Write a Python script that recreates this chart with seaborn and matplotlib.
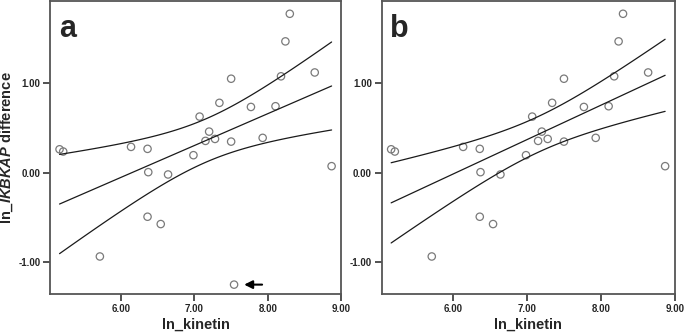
import numpy as np
import pandas as pd
import matplotlib
matplotlib.use("Agg")
import matplotlib.pyplot as plt
import seaborn as sns

# ln_kinetin and ln_IKBKAP difference
kinetin = [5.16, 5.21, 5.71, 6.135, 6.36, 6.37, 6.36, 6.54, 6.64, 6.986, 7.07, 7.15,
           7.20, 7.28, 7.34, 7.50, 7.50, 7.77, 7.93, 8.105, 8.18, 8.24, 8.30, 8.64, 8.87]
ikbkap = [0.26, 0.235, -0.94, 0.287, 0.265, 0.004, -0.495, -0.577, -0.022, 0.194, 0.626, 0.354,
          0.458, 0.376, 0.78, 1.05, 0.346, 0.734, 0.388, 0.742, 1.077, 1.468, 1.777, 1.12, 0.071]
# the outlier marked with an arrow in panel a
outlier_x = [7.54]
outlier_y = [-1.255]

xticks = [6, 7, 8, 9]
yticks = [-1, 0, 1]

sns.set_theme(style="white")
plt.rcParams["font.family"] = ["Liberation Sans", "DejaVu Sans"]
plt.rcParams["mathtext.fontset"] = "custom"
plt.rcParams["mathtext.bfit"] = "Liberation Sans:italic:bold"
plt.rcParams["mathtext.rm"] = "Liberation Sans:bold"


def ci_lines(x, y, grid, t=2.07):
    x = np.asarray(x)
    y = np.asarray(y)
    n = len(x)
    b1, b0 = np.polyfit(x, y, 1)
    resid = y - (b0 + b1 * x)
    s = np.sqrt(np.sum(resid ** 2) / (n - 2))
    sxx = np.sum((x - x.mean()) ** 2)
    fit = b0 + b1 * grid
    se = s * np.sqrt(1 / n + (grid - x.mean()) ** 2 / sxx)
    return fit, fit - t * se, fit + t * se


fig = plt.figure(figsize=(6.85, 3.36), dpi=100)
ax_a = fig.add_axes([0.073, 0.125, 0.425, 0.872])
ax_b = fig.add_axes([0.557, 0.125, 0.428, 0.872])

panels = [
    (ax_a, kinetin + outlier_x, ikbkap + outlier_y, "a"),
    (ax_b, kinetin, ikbkap, "b"),
]

for ax, xs, ys, letter in panels:
    df = pd.DataFrame({"x": xs, "y": ys})
    sns.scatterplot(data=df, x="x", y="y", ax=ax, marker="o", s=28,
                    facecolor="none", edgecolor="#7a7a7a", linewidth=0.9)
    grid = np.linspace(min(xs), max(xs), 100)
    fit, lo, hi = ci_lines(xs, ys, grid)
    for line in (fit, lo, hi):
        sns.lineplot(x=grid, y=line, ax=ax, color="#1a1a1a", linewidth=0.9)
    ax.set_xlim(5.03, 9.0)
    ax.set_ylim(-1.36, 1.92)
    ax.set_xticks(xticks)
    ax.set_yticks(yticks)
    ax.set_xticklabels([f"{v:.2f}" for v in xticks], fontsize=7, fontweight="bold")
    ax.set_yticklabels([f"{v:.2f}" for v in yticks], fontsize=7, fontweight="bold")
    ax.tick_params(direction="out", length=5, width=1.2, color="#333333", pad=2,
                   bottom=True, left=True)
    for sp in ax.spines.values():
        sp.set_color("#555555")
        sp.set_linewidth(1.3)
    ax.set_xlabel("ln_kinetin", fontsize=10.5, fontweight="bold", labelpad=3)
    ax.set_ylabel("")
    ax.text(0.03, 0.955, letter, transform=ax.transAxes, fontsize=22,
            fontweight="bold", va="top", ha="left")

ax_a.set_ylabel(r"ln_$\mathbfit{IKBKAP}$ difference", fontsize=10.5,
                fontweight="bold", labelpad=2)
ax_a.annotate("", xy=(7.64, -1.255), xytext=(7.96, -1.255),
              arrowprops=dict(arrowstyle="-|>", color="black", lw=1.5,
                              mutation_scale=12))

fig.savefig("out.png", dpi=100, facecolor="white")
